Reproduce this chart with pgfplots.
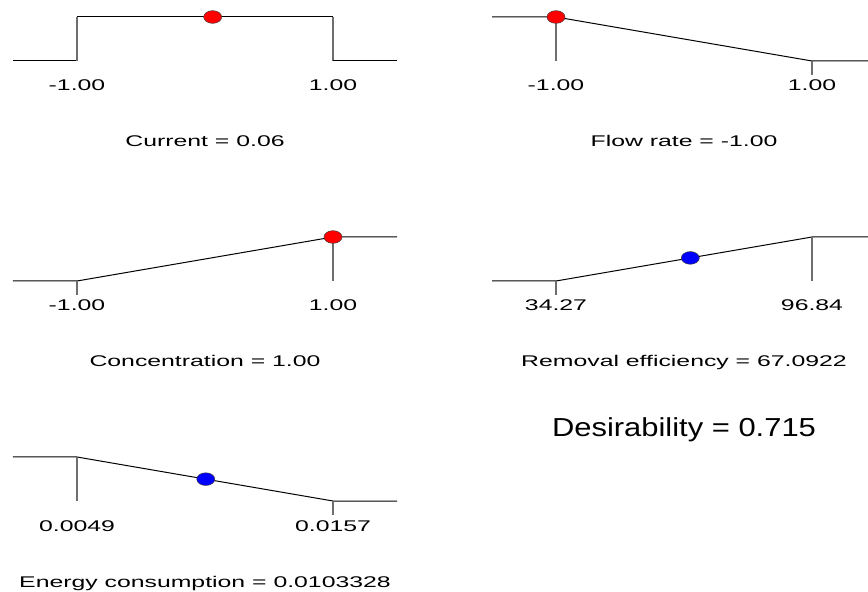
\documentclass[border=0pt]{standalone}
\usepackage{pgfplots}
\pgfplotsset{compat=1.18}
\usepackage{fontspec}
\setmainfont{Liberation Sans}
\usepackage{graphicx}
\definecolor{dropgray}{RGB}{110,110,110}
\newcommand{\lab}[1]{\scalebox{1.6}[1]{\fontsize{15.5}{18}\selectfont #1}}
\newcommand{\bigtxt}[1]{\scalebox{1.19}[1]{\fontsize{26}{30}\selectfont #1}}
\pgfplotsset{
  panel/.style={hide axis, scale only axis, width=384pt, height=44pt,
    ymin=0, ymax=1, clip=false, anchor=south west},
  hline/.style={black, line width=1pt, mark=none},
  vline/.style={dropgray, line width=1.3pt, mark=none},
  dot/.style={only marks, mark=*, mark size=6.35pt,
    mark options={xscale=1.42, fill=#1, draw=black!75, line width=0.5pt}},
}
\tikzset{
  lbl/.style={anchor=base, yshift=-30pt, inner sep=0pt},
  ttl/.style={anchor=base, yshift=-86pt, inner sep=0pt},
}
\begin{document}
\begin{tikzpicture}
\useasboundingbox (0,0) rectangle (868pt,592pt);

% Panel 1: Current
\begin{axis}[panel, at={(13pt,531pt)}, xmin=-1.5, xmax=1.5]
\addplot[hline] coordinates {(-1.5,0) (-1,0)};
\addplot[vline] coordinates {(-1,0) (-1,1)};
\addplot[hline] coordinates {(-1,1) (1,1)};
\addplot[vline] coordinates {(1,1) (1,0)};
\addplot[hline] coordinates {(1,0) (1.5,0)};
\addplot[dot=red] coordinates {(0.06,1)};
\node[lbl] at (axis cs:-1,0) {\lab{-1.00}};
\node[lbl] at (axis cs:1,0) {\lab{1.00}};
\node[ttl] at (axis cs:0,0) {\lab{Current = 0.06}};
\end{axis}

% Panel 2: Flow rate
\begin{axis}[panel, at={(492pt,531pt)}, xmin=-1.5, xmax=1.5]
\addplot[hline] coordinates {(-1.5,1) (-1,1) (1,0) (1.4375,0)};
\addplot[vline] coordinates {(-1,1) (-1,0)};
\addplot[vline] coordinates {(1,0) (1,-0.318)};
\addplot[dot=red] coordinates {(-1,1)};
\node[lbl] at (axis cs:-1,0) {\lab{-1.00}};
\node[lbl] at (axis cs:1,0) {\lab{1.00}};
\node[ttl] at (axis cs:0,0) {\lab{Flow rate = -1.00}};
\end{axis}

% Panel 3: Concentration
\begin{axis}[panel, at={(13pt,311pt)}, xmin=-1.5, xmax=1.5]
\addplot[hline] coordinates {(-1.5,0) (-1,0) (1,1) (1.5,1)};
\addplot[vline] coordinates {(-1,0) (-1,-0.318)};
\addplot[vline] coordinates {(1,1) (1,0)};
\addplot[dot=red] coordinates {(1,1)};
\node[lbl] at (axis cs:-1,0) {\lab{-1.00}};
\node[lbl] at (axis cs:1,0) {\lab{1.00}};
\node[ttl] at (axis cs:0,0) {\lab{Concentration = 1.00}};
\end{axis}

% Panel 4: Removal efficiency
\begin{axis}[panel, at={(492pt,311pt)}, xmin=18.6275, xmax=112.4825]
\addplot[hline] coordinates {(18.6275,0) (34.27,0) (96.84,1) (110.53,1)};
\addplot[vline] coordinates {(34.27,0) (34.27,-0.318)};
\addplot[vline] coordinates {(96.84,1) (96.84,0)};
\addplot[dot=blue] coordinates {(67.0922,0.52457)};
\node[lbl] at (axis cs:34.27,0) {\lab{34.27}};
\node[lbl] at (axis cs:96.84,0) {\lab{96.84}};
\node[ttl] at (axis cs:65.555,0) {\lab{Removal efficiency = 67.0922}};
\node[anchor=base, inner sep=0pt, yshift=-155pt] at (axis cs:65.555,0) {\bigtxt{Desirability = 0.715}};
\end{axis}

% Panel 5: Energy consumption
\begin{axis}[panel, at={(13pt,91pt)}, xmin=0.0022, xmax=0.0184]
\addplot[hline] coordinates {(0.0022,1) (0.0049,1) (0.0157,0) (0.0184,0)};
\addplot[vline] coordinates {(0.0049,1) (0.0049,0)};
\addplot[vline] coordinates {(0.0157,0) (0.0157,-0.318)};
\addplot[dot=blue] coordinates {(0.0103328,0.49696)};
\node[lbl] at (axis cs:0.0049,0) {\lab{0.0049}};
\node[lbl] at (axis cs:0.0157,0) {\lab{0.0157}};
\node[ttl] at (axis cs:0.0103,0) {\lab{Energy consumption = 0.0103328}};
\end{axis}
\end{tikzpicture}
\end{document}
